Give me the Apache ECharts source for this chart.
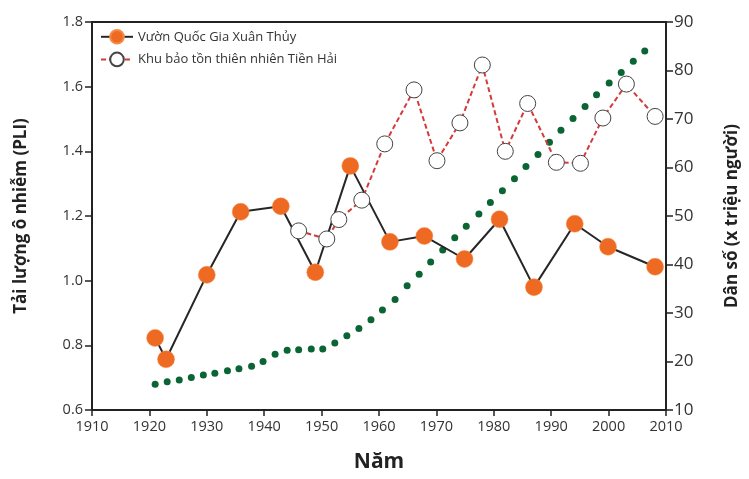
<!DOCTYPE html>
<html>
<head>
<meta charset="utf-8">
<script src="https://cdn.jsdelivr.net/npm/echarts@6/dist/echarts.min.js"></script>
<style>html,body{margin:0;padding:0;background:#fff}#c{width:749px;height:479px}</style>
</head>
<body>
<div id="c"></div>
<script>
// Vườn Quốc Gia Xuân Thủy
var xtYears = [1921.0, 1922.9, 1930.0, 1935.9, 1942.9, 1948.9, 1955.0, 1961.9, 1967.9, 1974.9, 1981.0, 1987.0, 1994.1, 1999.9, 2008.1];
var xtPLI   = [0.823, 0.757, 1.018, 1.213, 1.230, 1.026, 1.355, 1.120, 1.138, 1.067, 1.190, 0.980, 1.176, 1.105, 1.043];
// Khu bảo tồn thiên nhiên Tiền Hải
var thYears = [1946.0, 1950.9, 1953.0, 1957.0, 1961.0, 1966.1, 1970.1, 1974.1, 1978.0, 1982.0, 1985.9, 1990.9, 1995.1, 1999.0, 2003.1, 2008.1];
var thPLI   = [1.154, 1.129, 1.189, 1.249, 1.423, 1.590, 1.371, 1.488, 1.667, 1.400, 1.548, 1.366, 1.363, 1.503, 1.608, 1.508];
// Dân số (triệu người)
var popYears = [1921.0, 1923.1, 1925.2, 1927.3, 1929.4, 1931.4, 1933.6, 1935.6, 1937.8, 1939.8, 1941.9, 1944.0, 1946.0, 1948.2, 1950.2, 1952.3, 1954.4, 1956.5, 1958.6, 1960.6, 1962.8, 1964.9, 1967.0, 1969.0, 1971.1, 1973.2, 1975.2, 1977.4, 1979.4, 1981.5, 1983.6, 1985.6, 1987.7, 1989.7, 1991.7, 1993.8, 1995.9, 1997.9, 2000.1, 2002.2, 2004.3, 2006.3];
var popVals  = [15.3, 15.8, 16.2, 16.7, 17.2, 17.6, 18.1, 18.5, 19.0, 20.0, 21.5, 22.3, 22.4, 22.6, 22.6, 23.8, 25.3, 26.8, 28.6, 30.6, 32.8, 35.6, 38.0, 40.5, 43.0, 45.5, 47.9, 50.4, 52.8, 55.2, 57.7, 60.2, 62.7, 65.2, 67.7, 70.1, 72.6, 75.0, 77.4, 79.6, 81.9, 84.0];

var seriesNames = ['Vườn Quốc Gia Xuân Thủy', 'Khu bảo tồn thiên nhiên Tiền Hải', 'Dân số'];
var xTitle = 'Năm';
var yLeftTitle = 'Tải lượng ô nhiễm (PLI)';
var yRightTitle = 'Dân số (x triệu người)';

function zip(a, b) { return a.map(function (v, i) { return [v, b[i]]; }); }

var FONT = '"Open Sans", "Noto Sans", sans-serif';
var chart = echarts.init(document.getElementById('c'), null, {renderer: 'canvas'});
chart.setOption({
  animation: false,
  backgroundColor: '#fff',
  textStyle: {fontFamily: FONT},
  grid: {left: 92, right: 77, top: 22, bottom: 69, show: true, borderColor: '#222', borderWidth: 2, backgroundColor: 'transparent'},
  legend: {
    data: [seriesNames[0], seriesNames[1]],
    orient: 'vertical', left: 95, top: 24, itemGap: 7,
    itemWidth: 32, itemHeight: 17,
    textStyle: {fontFamily: FONT, fontSize: 13, color: '#333'}
  },
  xAxis: {
    type: 'value', min: 1910, max: 2010, interval: 10,
    name: xTitle, nameLocation: 'middle', nameGap: 42,
    nameTextStyle: {fontFamily: FONT, fontSize: 21, fontWeight: 'bold', color: '#222'},
    axisLine: {show: true, onZero: false, lineStyle: {color: '#222', width: 2}},
    axisTick: {show: true, inside: false, length: 6, lineStyle: {color: '#222', width: 1.5}},
    axisLabel: {fontFamily: FONT, fontSize: 14.5, color: '#333', margin: 9, formatter: function (v) { return String(Math.round(v)); }},
    splitLine: {show: false}
  },
  yAxis: [{
    type: 'value', min: 0.6, max: 1.8, interval: 0.2, position: 'left',
    name: yLeftTitle, nameLocation: 'middle', nameGap: 62, nameRotate: 90,
    nameTextStyle: {fontFamily: FONT, fontSize: 17, fontWeight: 'bold', color: '#222'},
    axisLine: {show: true, lineStyle: {color: '#222', width: 2}},
    axisTick: {show: true, length: 7, lineStyle: {color: '#222', width: 1.5}},
    axisLabel: {fontFamily: FONT, fontSize: 14.5, color: '#333', margin: 9, formatter: function (v) { return v.toFixed(1); }},
    splitLine: {show: false}
  }, {
    type: 'value', min: 10, max: 90, interval: 10, position: 'right',
    name: yRightTitle, nameLocation: 'middle', nameGap: 58, nameRotate: 90,
    nameTextStyle: {fontFamily: FONT, fontSize: 17, fontWeight: 'bold', color: '#222'},
    axisLine: {show: true, lineStyle: {color: '#222', width: 2}},
    axisTick: {show: true, length: 7, lineStyle: {color: '#222', width: 1.5}},
    axisLabel: {fontFamily: FONT, fontSize: 17, color: '#333', margin: 8},
    splitLine: {show: false}
  }],
  series: [{
    name: seriesNames[2], type: 'scatter', yAxisIndex: 1,
    data: zip(popYears, popVals), symbol: 'circle', symbolSize: 7,
    itemStyle: {color: '#0B6434', opacity: 1}, z: 1
  }, {
    name: seriesNames[0], type: 'line', yAxisIndex: 0,
    data: zip(xtYears, xtPLI), symbol: 'circle', symbolSize: 17,
    lineStyle: {color: '#262626', width: 2},
    itemStyle: {color: '#EE6A22', borderColor: '#F48A4A', borderWidth: 0.5},
    z: 2
  }, {
    name: seriesNames[1], type: 'line', yAxisIndex: 0,
    data: zip(thYears, thPLI), symbol: 'circle', symbolSize: 16,
    lineStyle: {color: '#D43A3A', width: 2, type: [5, 3]},
    itemStyle: {color: '#fff', borderColor: '#444', borderWidth: 1},
    z: 3
  }]
});
</script>
</body>
</html>
